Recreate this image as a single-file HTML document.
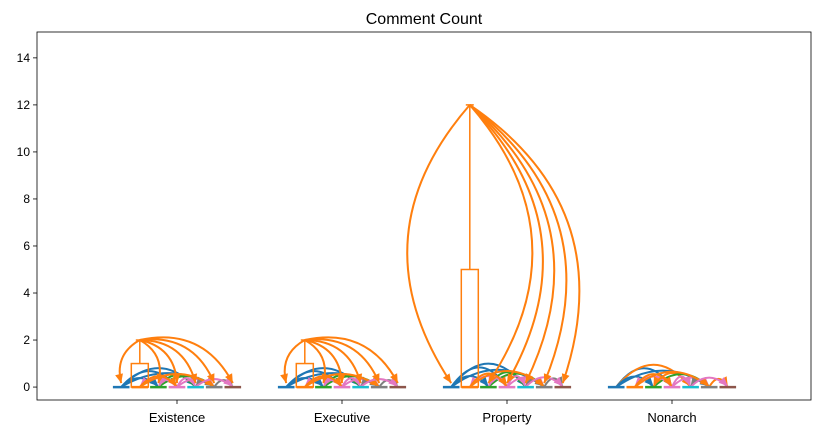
<!DOCTYPE html>
<html><head><meta charset="utf-8"><style>
body{margin:0;background:#fff;}
svg{display:block;font-family:"Liberation Sans","DejaVu Sans",sans-serif;}
</style></head><body>
<svg id="chart" width="822" height="435">
<text x="424" y="24" font-size="16" text-anchor="middle">Comment Count</text>
<rect x="37" y="32" width="774" height="368" fill="none" stroke="#000" stroke-width="0.8"/>
<g id="yaxis"></g>
<g id="xaxis"></g>
<g id="marks"></g>
</svg>
<script>
const categories = ["Existence","Executive","Property","Nonarch"];
const boxQ1 = [0,0,0,null];
const boxQ3 = [1,1,5,null];
const boxMax = [2,2,12,null];
const yTicks = [0,2,4,6,8,10,12,14];
const segColors = ["#1f77b4","#ff7f0e","#2ca02c","#e377c2","#17becf","#7f7f7f","#8c564b"];
// arcs: from segment, to segment, color index, height
const arcFrom = [0,0,0,0,2,2,3,3,3,3,5,5,1,1,4];
const arcTo   = [3,4,5,2,4,5,1,2,4,5,6,4,3,5,6];
const arcColor= [0,0,0,0,2,2,3,3,3,3,5,5,1,1,3];
const arcHeight=[0.8,0.95,0.7,0.45,0.6,0.55,0.45,0.4,0.45,0.4,0.35,0.3,0.55,0.65,0.4];
const arcScale = [0.85,0.85,1.05,1.0];
const arcUseOrange = [false,false,false,true];

const ns="http://www.w3.org/2000/svg";
const X0=37,X1=811,Ytop=32,Ybot=400;
const yMin=-0.55,yMax=15.1;
const y=v=>Ybot-(v-yMin)/(yMax-yMin)*(Ybot-Ytop);
const xCat=i=>177+i*165;
const SEG=18.6;
const segX=(i,s)=>xCat(i)+(s-3)*SEG;
function mk(tag,attrs,parent){const e=document.createElementNS(ns,tag);for(const k in attrs)e.setAttribute(k,attrs[k]);parent.appendChild(e);return e;}
const ya=document.getElementById('yaxis'),xa=document.getElementById('xaxis'),m=document.getElementById('marks');
yTicks.forEach(t=>{
  const l=mk('line',{x1:X0-4,x2:X0,y1:y(t),y2:y(t),stroke:'#000','stroke-width':0.8},ya);
  
  
  const tx=mk('text',{x:X0-7,y:y(t)+4,'font-size':12,'text-anchor':'end'},ya);
  tx.textContent=t;
  
  
});
categories.forEach((c,i)=>{
  const l=mk('line',{x1:xCat(i),x2:xCat(i),y1:Ybot,y2:Ybot+4,stroke:'#000','stroke-width':0.8},xa);
  
  
  const tx=mk('text',{x:xCat(i),y:Ybot+22,'font-size':13,'text-anchor':'middle'},xa);
  tx.textContent=c;
  
  
});
function arrowHead(x1,y1,cx,cy,col,g){
  const a=Math.atan2(y1-cy,x1-cx),L=9,W=4;
  const bx=x1-L*Math.cos(a),by=y1-L*Math.sin(a);
  const p=mk('polygon',{points:`${x1},${y1} ${bx+W*Math.sin(a)},${by-W*Math.cos(a)} ${bx-W*Math.sin(a)},${by+W*Math.cos(a)}`,fill:col},g);
  
  
}
categories.forEach((c,i)=>{
  const g=mk('g',{},m);
  
  
  arcFrom.forEach((f,k)=>{
    const xa1=segX(i,f),xb=segX(i,arcTo[k]);
    const h=arcHeight[k]*arcScale[i];
    const ccol = (arcUseOrange[i] && k%3==1)? "#ff7f0e" : segColors[arcColor[k]];
    const cy=y(0)-2*(y(0)-y(h));
    const p=mk('path',{d:`M${xa1},${y(0)} Q${(xa1+xb)/2},${cy} ${xb},${y(0)}`,fill:'none',stroke:ccol,'stroke-width':2},g);
    
    
    arrowHead(xb,y(0)-1,(xa1+xb)/2,cy,ccol,g);
  });
  segColors.forEach((col,s)=>{
    const l=mk('line',{x1:segX(i,s)-SEG/2+1,x2:segX(i,s)+SEG/2-1,y1:y(0),y2:y(0),stroke:col,'stroke-width':2.5},g);
    
    
  });
  if(boxMax[i]!=null){
    const bx=segX(i,1),col="#ff7f0e";
    const r=mk('rect',{x:bx-8.5,y:y(boxQ3[i]),width:17,height:y(boxQ1[i])-y(boxQ3[i]),fill:'none',stroke:col,'stroke-width':1.5},g);
    
    
    const w=mk('line',{x1:bx,x2:bx,y1:y(boxQ3[i]),y2:y(boxMax[i]),stroke:col,'stroke-width':1.5},g);
    
    
    const cap=mk('line',{x1:bx-4,x2:bx+4,y1:y(boxMax[i]),y2:y(boxMax[i]),stroke:col,'stroke-width':1.5},g);
    
    
    [0,2,3,4,5,6].forEach(s=>{
      const x0=bx,y0=y(boxMax[i]),x1=segX(i,s),y1=y(0)-4;
      const dx=x1-x0,dy=y1-y0,rad=0.38*Math.sign(dx);
      const cx=(x0+x1)/2+rad*dy,cy=(y0+y1)/2-rad*dx;
      const p=mk('path',{d:`M${x0},${y0} Q${cx},${cy} ${x1},${y1}`,fill:'none',stroke:col,'stroke-width':2},g);
      
      
      arrowHead(x1,y1,cx,cy,col,g);
    });
  }
});
</script>
</body></html>
